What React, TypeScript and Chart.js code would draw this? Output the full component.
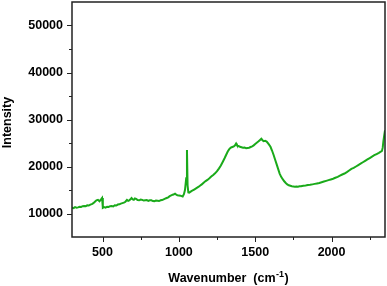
import React, { useEffect, useRef } from "react";
import { Chart, registerables } from "chart.js";

Chart.register(...registerables);

const wavenumbers = [
  300, 310, 320, 330, 340, 350, 360, 370, 380, 390, 400, 410, 420, 430, 440, 450, 460, 470, 480, 490, 497, 502, 510, 520, 530, 540, 550, 560, 570, 580, 590, 600, 610, 620,
  630, 640, 650, 660, 668, 675, 683, 690, 698, 705, 712, 720, 730, 740, 750, 760, 770, 780, 790, 800, 810, 820, 830, 840, 850, 860, 870, 880, 890, 900, 910, 920, 930, 940, 950, 960, 968, 975, 983, 990,
  1000, 1010, 1018, 1025, 1033, 1040, 1048, 1053, 1057, 1062, 1068, 1075, 1082, 1090, 1100, 1110, 1120, 1130, 1140, 1150, 1162, 1175, 1187, 1200, 1212, 1225, 1237, 1250, 1262, 1275, 1287, 1300, 1310, 1320, 1330, 1340,
  1350, 1360, 1368, 1375, 1380, 1385, 1392, 1400, 1410, 1420, 1430, 1440, 1450, 1460, 1470, 1480, 1490, 1500, 1510, 1520, 1530, 1540, 1548, 1555, 1565, 1575, 1587, 1600, 1610, 1620, 1630, 1640, 1650, 1660, 1670, 1680, 1690, 1700, 1710, 1720,
  1730, 1740, 1750, 1760, 1770, 1780, 1790, 1800, 1815, 1830, 1845, 1860, 1875, 1890, 1905, 1920, 1935, 1950, 1965, 1980, 1995, 2010, 2025, 2040, 2055, 2070, 2085, 2100, 2115, 2130, 2145, 2160, 2175, 2190, 2205, 2220, 2235, 2250, 2265, 2280,
  2295, 2310, 2320, 2330, 2335, 2340, 2345, 2350,
];

const intensity = [
  11200, 11150, 11350, 11250, 11300, 11450, 11400, 11550, 11600, 11550, 11750, 11700, 11900, 12000, 12200, 12500, 12800, 12900, 12600, 13000, 13300, 11200, 11350, 11250, 11450, 11400, 11550, 11600, 11500, 11750, 11700, 11900, 11950, 12100,
  12200, 12300, 12500, 12900, 12700, 12800, 13000, 13300, 13000, 12900, 13200, 13100, 12850, 12800, 12950, 12900, 12750, 12800, 12850, 12700, 12800, 12800, 12650, 12600, 12750, 12700, 12650, 12800, 12850, 13000, 13150, 13300, 13450, 13700, 13850, 14000, 14100, 14200, 14000, 13900,
  13850, 13800, 13700, 13600, 14100, 15000, 17500, 23500, 16000, 14500, 14450, 14600, 14750, 14900, 15100, 15300, 15500, 15700, 15950, 16200, 16550, 16900, 17150, 17500, 17850, 18200, 18550, 19000, 19550, 20200, 20950, 21800, 22500, 23200, 23700, 24000,
  24150, 24300, 24500, 24900, 24600, 24300, 24350, 24200, 24100, 24000, 24050, 23900, 23950, 24000, 24150, 24300, 24500, 24800, 25050, 25300, 25600, 25900, 25600, 25400, 25450, 25300, 24800, 24200, 23400, 22500, 21500, 20500, 19500, 18500, 17800, 17300, 16850, 16500, 16200, 16000,
  15900, 15800, 15750, 15700, 15750, 15700, 15800, 15800, 15900, 15950, 16050, 16100, 16200, 16300, 16400, 16500, 16650, 16800, 16950, 17100, 17250, 17400, 17600, 17800, 18050, 18300, 18500, 18800, 19150, 19500, 19700, 20000, 20300, 20600, 20900, 21200, 21500, 21800, 22100, 22400,
  22650, 22900, 23100, 23300, 24000, 25500, 26600, 27700,
];

const xMajorTicks = [500, 1000, 1500, 2000];
const xMinorTicks = [750, 1250, 1750, 2250];
const yMajorTicks = [10000, 20000, 30000, 40000, 50000];
const yMinorTicks = [15000, 25000, 35000, 45000];

const FONT = '"Liberation Sans", Arial, sans-serif';

export default function App() {
  const ref = useRef<HTMLCanvasElement | null>(null);

  useEffect(() => {
    if (!ref.current) return;
    const frame = {
      id: "frame",
      afterDraw(chart: any) {
        const { ctx, chartArea } = chart;
        const xs = chart.scales.x;
        const ys = chart.scales.y;
        ctx.save();
        ctx.strokeStyle = "#222";
        ctx.lineWidth = 1.5;
        ctx.strokeRect(chartArea.left, chartArea.top, chartArea.right - chartArea.left, chartArea.bottom - chartArea.top);
        ctx.lineWidth = 1;
        ctx.beginPath();
        for (const v of xMajorTicks) {
          const px = Math.round(xs.getPixelForValue(v)) + 0.5;
          ctx.moveTo(px, chartArea.bottom);
          ctx.lineTo(px, chartArea.bottom + 5);
        }
        for (const v of xMinorTicks) {
          const px = Math.round(xs.getPixelForValue(v)) + 0.5;
          ctx.moveTo(px, chartArea.bottom);
          ctx.lineTo(px, chartArea.bottom + 3);
        }
        for (const v of yMajorTicks) {
          const py = Math.round(ys.getPixelForValue(v)) + 0.5;
          ctx.moveTo(chartArea.left, py);
          ctx.lineTo(chartArea.left - 5, py);
        }
        for (const v of yMinorTicks) {
          const py = Math.round(ys.getPixelForValue(v)) + 0.5;
          ctx.moveTo(chartArea.left, py);
          ctx.lineTo(chartArea.left - 3, py);
        }
        ctx.stroke();

        ctx.fillStyle = "#000";
        ctx.font = `bold 12.5px ${FONT}`;
        ctx.textAlign = "center";
        ctx.textBaseline = "middle";
        ctx.save();
        ctx.translate(8, (chartArea.top + chartArea.bottom) / 2 + 3);
        ctx.rotate(-Math.PI / 2);
        ctx.fillText("Intensity", 0, 0);
        ctx.restore();

        const main = "Wavenumber  (cm";
        const sup = "-1";
        const close = ")";
        ctx.textBaseline = "alphabetic";
        ctx.textAlign = "left";
        ctx.font = `bold 12.5px ${FONT}`;
        const w1 = ctx.measureText(main).width;
        const w3 = ctx.measureText(close).width;
        ctx.font = `bold 9px ${FONT}`;
        const w2 = ctx.measureText(sup).width;
        const total = w1 + w2 + w3 + 1;
        const cx = (chartArea.left + chartArea.right) / 2;
        const x0 = cx - total / 2;
        const base = 281.5;
        ctx.font = `bold 12.5px ${FONT}`;
        ctx.fillText(main, x0, base);
        ctx.font = `bold 9px ${FONT}`;
        ctx.fillText(sup, x0 + w1 + 0.5, base - 5);
        ctx.font = `bold 12.5px ${FONT}`;
        ctx.fillText(close, x0 + w1 + w2 + 1, base);
        ctx.restore();
      },
    };

    const chart = new Chart(ref.current, {
      type: "line",
      data: {
        datasets: [
          {
            data: wavenumbers.map((x, i) => ({ x, y: intensity[i] })),
            borderColor: "#1aaa1a",
            borderWidth: 2,
            pointRadius: 0,
            tension: 0,
            fill: false,
          },
        ],
      },
      options: {
        animation: false,
        responsive: false,
        maintainAspectRatio: false,
        layout: { padding: { top: 2, right: 2, left: 0, bottom: 0 } },
        plugins: { legend: { display: false }, tooltip: { enabled: false } },
        scales: {
          x: {
            type: "linear",
            min: 300,
            max: 2350,
            afterBuildTicks: (axis: any) => {
              axis.ticks = xMajorTicks.map((v) => ({ value: v }));
            },
            afterFit: (axis: any) => {
              axis.height = 49;
              axis.paddingLeft = 0;
              axis.paddingRight = 0;
            },
            grid: { display: true, drawOnChartArea: false, drawTicks: true, tickLength: 5, tickColor: "rgba(0,0,0,0)" },
            border: { display: false },
            ticks: {
              autoSkip: false,
              maxRotation: 0,
              padding: 3,
              color: "#000",
              font: { family: FONT, size: 12.5, weight: "bold" },
              callback: (v: any) => String(v),
            },
          },
          y: {
            type: "linear",
            min: 5000,
            max: 55000,
            afterBuildTicks: (axis: any) => {
              axis.ticks = yMajorTicks.map((v) => ({ value: v }));
            },
            afterFit: (axis: any) => {
              axis.width = 72;
              axis.paddingTop = 0;
              axis.paddingBottom = 0;
            },
            grid: { display: true, drawOnChartArea: false, drawTicks: true, tickLength: 5, tickColor: "rgba(0,0,0,0)" },
            border: { display: false },
            ticks: {
              autoSkip: false,
              padding: 4,
              color: "#000",
              font: { family: FONT, size: 12.5, weight: "bold" },
              callback: (v: any) => String(v),
            },
          },
        },
      },
      plugins: [frame],
    } as any);
    return () => chart.destroy();
  }, []);

  return (
    <div style={{ position: "absolute", left: 0, top: 0, width: 387, height: 286, background: "#fff" }}>
      <canvas ref={ref} width={387} height={286} style={{ width: 387, height: 286, display: "block" }} />
    </div>
  );
}
